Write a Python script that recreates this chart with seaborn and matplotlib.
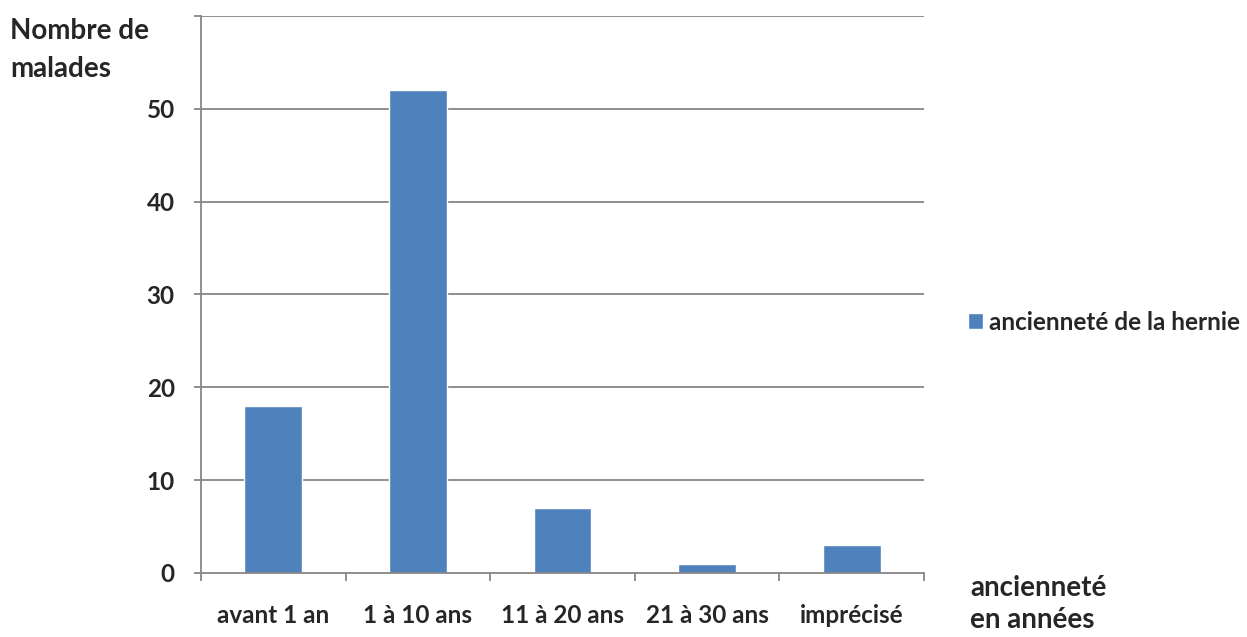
import matplotlib
matplotlib.use("Agg")
import matplotlib.pyplot as plt
import seaborn as sns
import pandas as pd

categories = ["avant 1 an", "1 à 10 ans", "11 à 20 ans", "21 à 30 ans", "imprécisé"]
malades = [18, 52, 7, 1, 3]
series_name = "ancienneté de la hernie"
y_ticks = [0, 10, 20, 30, 40, 50]

df = pd.DataFrame({"categorie": categories, "malades": malades})

sns.set_theme(style="white")
plt.rcParams["font.family"] = ["Lato", "DejaVu Sans"]
plt.rcParams["font.weight"] = "bold"

bar_color = "#4F81BD"
grid_color = "#868686"
tick_fs = 17.5
title_fs = 20

fig = plt.figure(figsize=(12.47, 6.37), dpi=100)
ax = fig.add_axes([0.1612, 0.1005, 0.5798, 0.8744])

sns.barplot(data=df, x="categorie", y="malades", color=bar_color, width=0.4,
            saturation=1, ax=ax, label=series_name)

ax.set_ylim(0, 60)
ax.set_xlim(-0.5, len(categories) - 0.5)

# horizontal gridlines, including the top boundary at 60
for v in y_ticks[1:] + [60]:
    ax.axhline(v, color=grid_color, lw=1.3, zorder=0)

ax.set_yticks(y_ticks + [60])
ax.set_yticklabels([str(v) for v in y_ticks] + [""])
ax.tick_params(axis="y", length=5, width=1.3, color=grid_color, pad=14,
               labelsize=tick_fs, left=True)

# x ticks between categories, labels centred on bars
ax.set_xticks([i - 0.5 for i in range(len(categories) + 1)], minor=False)
ax.set_xticklabels([""] * (len(categories) + 1))
ax.set_xticks(range(len(categories)), minor=True)
ax.set_xticklabels(categories, minor=True)
ax.tick_params(axis="x", which="major", length=6, width=1.3, color=grid_color, bottom=True)
ax.tick_params(axis="x", which="minor", length=0, pad=22.5, labelsize=tick_fs)

for s in ["top", "right"]:
    ax.spines[s].set_visible(False)
for s in ["left", "bottom"]:
    ax.spines[s].set_color(grid_color)
    ax.spines[s].set_linewidth(1.3)

ax.set_xlabel("")
ax.set_ylabel("")

fig.text(10 / 1247, 1 - 50 / 637, "Nombre de\nmalades", fontsize=title_fs,
         ha="left", va="center", linespacing=1.6)
fig.text(970 / 1247, 1 - 604 / 637, "ancienneté\nen années", fontsize=title_fs,
         ha="left", va="center", linespacing=1.3)

ax.legend(loc="center left", bbox_to_anchor=(1.03, 0.45), frameon=False,
          fontsize=tick_fs, handlelength=0.65, handleheight=0.65, handletextpad=0.25)

fig.savefig("out.png", dpi=100)
